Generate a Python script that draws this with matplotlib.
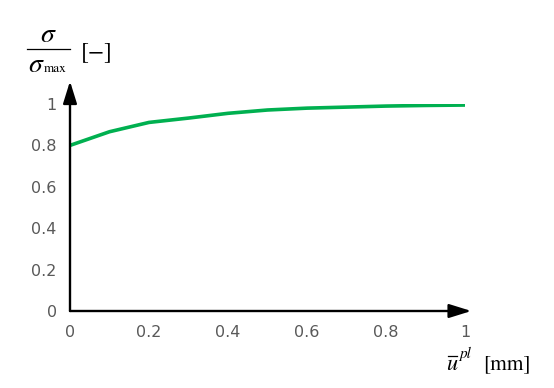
import matplotlib
matplotlib.use('Agg')
import matplotlib.pyplot as plt
from matplotlib.lines import Line2D

# Data
u_pl = [0.0, 0.1, 0.2, 0.3, 0.4, 0.5, 0.6, 0.7, 0.8, 0.9, 1.0]
sigma_ratio = [0.80, 0.866, 0.911, 0.932, 0.955, 0.971, 0.980, 0.985, 0.990, 0.993, 0.995]
x_ticks = [0, 0.2, 0.4, 0.6, 0.8, 1]
x_tick_labels = ['0', '0.2', '0.4', '0.6', '0.8', '1']
y_ticks = [0, 0.2, 0.4, 0.6, 0.8, 1]
y_tick_labels = ['0', '0.2', '0.4', '0.6', '0.8', '1']

GREEN = '#00B050'
GREY = '#595959'
SERIF = 'STIXGeneral'
W, H = 554, 388

plt.rcParams['mathtext.fontset'] = 'stix'


def px(x, y):
    # pixel position (from top-left) to figure fraction
    return x / W, 1 - y / H


fig = plt.figure(figsize=(W / 100, H / 100), dpi=100)
ax = fig.add_axes([70 / W, (H - 311) / H, 395 / W, 207 / H])
ax.set_xlim(0, 1)
ax.set_ylim(0, 1)

ax.plot(u_pl, sigma_ratio, color=GREEN, linewidth=2.6, solid_capstyle='butt')

# Axes: arrows instead of spines
for s in ax.spines.values():
    s.set_visible(False)
arrow = dict(arrowstyle='-|>,head_length=1.35,head_width=0.42', color='black',
             linewidth=1.7, shrinkA=0, shrinkB=0)
ax.annotate('', xy=(1.016, 0), xytext=(0, 0), xycoords='axes fraction',
            arrowprops=arrow, annotation_clip=False)
ax.annotate('', xy=(0, 1.11), xytext=(0, 0), xycoords='axes fraction',
            arrowprops=arrow, annotation_clip=False)

ax.set_xticks(x_ticks)
ax.set_xticklabels(x_tick_labels)
ax.set_yticks(y_ticks)
ax.set_yticklabels(y_tick_labels)
ax.tick_params(length=0, labelsize=11.5, labelcolor=GREY)
ax.tick_params(axis='x', pad=10)
ax.tick_params(axis='y', pad=9.5)

# y title: sigma / sigma_max [-], built by hand
fig.text(*px(48.5, 42), r'$\sigma$', fontsize=20, ha='center', va='baseline')
fig.add_artist(Line2D([27 / W, 70 / W], [1 - 48.5 / H, 1 - 48.5 / H],
                      color='black', linewidth=0.9))
fig.text(*px(36, 72), r'$\sigma$', fontsize=20, ha='center', va='baseline')
fig.text(*px(44, 72.5), 'max', family=SERIF, fontsize=9.5, ha='left', va='baseline')
fig.text(*px(96.5, 58), '[\u2212]', family=SERIF, fontsize=17, ha='center',
         va='baseline')

# x title: u-bar^pl [mm]
fig.text(*px(452, 370), 'u', family=SERIF, style='italic', fontsize=16,
         ha='center', va='baseline')
fig.add_artist(Line2D([447.5 / W, 456.5 / W], [1 - 355.5 / H, 1 - 355.5 / H],
                      color='black', linewidth=0.9))
fig.text(*px(459, 358), 'pl', family=SERIF, style='italic', fontsize=11,
         ha='left', va='baseline')
fig.text(*px(483, 369), '[mm]', family=SERIF, fontsize=15.5, ha='left',
         va='baseline')

fig.savefig('out.png', dpi=100)
